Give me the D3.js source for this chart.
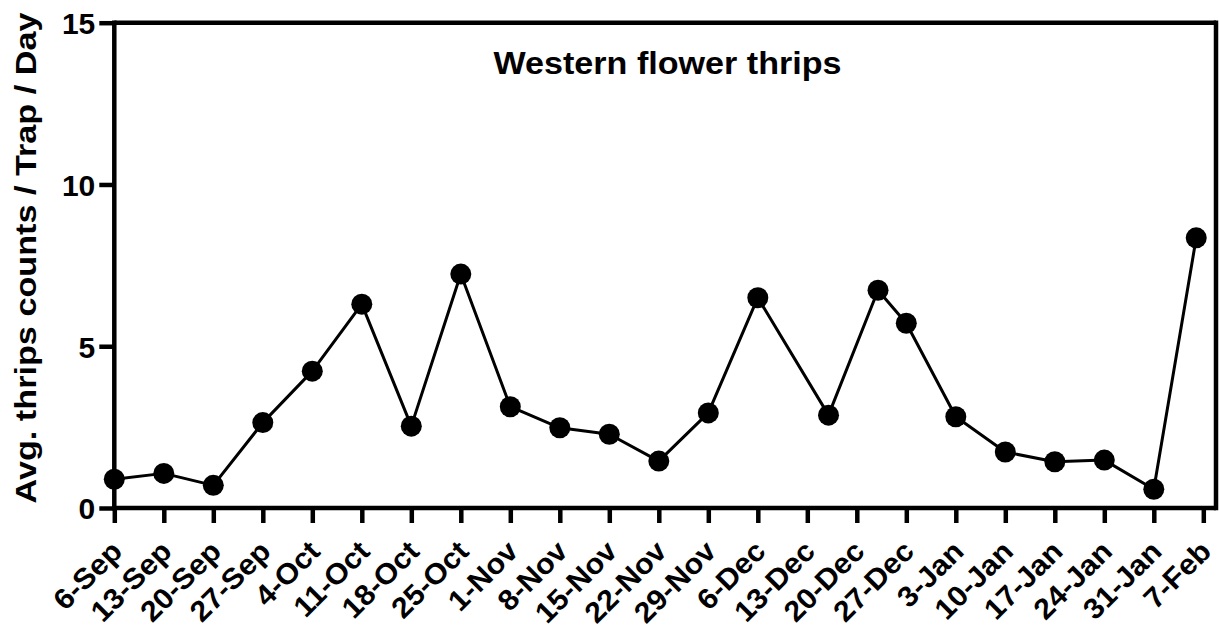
<!DOCTYPE html>
<html>
<head>
<meta charset="utf-8">
<script src="https://cdn.jsdelivr.net/npm/d3@7"></script>
<style>
  html, body { margin: 0; padding: 0; background: #fff; }
  svg text { font-family: "Liberation Sans", Arial, Helvetica, sans-serif; font-weight: bold; fill: #000; }
</style>
</head>
<body>
<svg id="chart" width="1219" height="635"></svg>
<script>
// ---- data ----
const dates = ["2019-09-06","2019-09-13","2019-09-20","2019-09-27","2019-10-04","2019-10-11","2019-10-18","2019-10-25",
               "2019-11-01","2019-11-08","2019-11-15","2019-11-22","2019-11-29","2019-12-06","2019-12-16","2019-12-23",
               "2019-12-27","2020-01-03","2020-01-10","2020-01-17","2020-01-24","2020-01-31","2020-02-06"];
const values = [0.89, 1.07, 0.70, 2.64, 4.23, 6.30, 2.53, 7.23,
                3.13, 2.48, 2.28, 1.45, 2.94, 6.50, 2.87, 6.73,
                5.71, 2.82, 1.73, 1.43, 1.48, 0.58, 8.35];
const tickLabels = ["6-Sep","13-Sep","20-Sep","27-Sep","4-Oct","11-Oct","18-Oct","25-Oct","1-Nov","8-Nov","15-Nov",
                    "22-Nov","29-Nov","6-Dec","13-Dec","20-Dec","27-Dec","3-Jan","10-Jan","17-Jan","24-Jan","31-Jan","7-Feb"];
const yTicks = [0, 5, 10, 15];
const chartTitle = "Western flower thrips";
const yTitle = "Avg. thrips counts / Trap / Day";

// ---- setup ----
const parse = d3.timeParse("%Y-%m-%d");
const data = dates.map((d, i) => ({ date: parse(d), value: values[i] }));
const weekly = d3.range(tickLabels.length).map(i => d3.timeDay.offset(parse("2019-09-06"), i * 7));

const svg = d3.select("#chart");
const mLeft = 114.3, mRight = 1216, mTop = 22.7, mBottom = 508;

const x = d3.scaleTime()
  .domain([parse("2019-09-06"), parse("2020-02-07")])
  .range([mLeft, 1203.3]);
const y = d3.scaleLinear().domain([0, 15]).range([mBottom, mTop]);

const axisW = 4.5;

// frame (top & right)
svg.append("line").attr("x1", mLeft).attr("x2", mRight).attr("y1", mTop).attr("y2", mTop)
  .attr("stroke", "#000").attr("stroke-width", axisW);
svg.append("line").attr("x1", mRight).attr("x2", mRight).attr("y1", mTop - axisW / 2).attr("y2", mBottom + axisW / 2)
  .attr("stroke", "#000").attr("stroke-width", axisW);

// y axis
const yAxis = d3.axisLeft(y).tickValues(yTicks).tickSize(15).tickPadding(4).tickFormat(d3.format("d"));
const gy = svg.append("g").attr("transform", `translate(${mLeft},0)`).call(yAxis);
gy.select(".domain").remove();
gy.append("line").attr("x1", 0).attr("x2", 0).attr("y1", mTop - axisW / 2).attr("y2", mBottom + axisW / 2)
  .attr("stroke", "#000").attr("stroke-width", axisW);
gy.selectAll(".tick line").attr("stroke", "#000").attr("stroke-width", axisW);
gy.selectAll(".tick text").attr("font-size", 30).attr("font-family", null).attr("dy", "0.36em");

// x axis
const xAxis = d3.axisBottom(x).tickValues(weekly).tickSize(15).tickFormat((d, i) => tickLabels[i]);
const gx = svg.append("g").attr("transform", `translate(0,${mBottom})`).call(xAxis);
gx.select(".domain").remove();
gx.append("line").attr("x1", mLeft - axisW / 2).attr("x2", mRight).attr("y1", 0).attr("y2", 0)
  .attr("stroke", "#000").attr("stroke-width", axisW);
gx.selectAll(".tick line").attr("stroke", "#000").attr("stroke-width", axisW);
gx.selectAll(".tick text")
  .attr("font-size", 29).attr("font-family", null)
  .attr("text-anchor", "end")
  .attr("x", 0).attr("y", 0).attr("dy", null)
  .attr("transform", "translate(9,45) rotate(-45)")
  .each(function () {
    const len = this.getComputedTextLength();
    d3.select(this).attr("textLength", len * 1.05).attr("lengthAdjust", "spacingAndGlyphs");
  });

// line
const line = d3.line().x(d => x(d.date)).y(d => y(d.value));
svg.append("path").datum(data).attr("d", line)
  .attr("fill", "none").attr("stroke", "#000").attr("stroke-width", 3).attr("stroke-linejoin", "round");

// points
svg.append("g").selectAll("circle").data(data).join("circle")
  .attr("cx", d => x(d.date)).attr("cy", d => y(d.value)).attr("r", 10.5).attr("fill", "#000");

// title
svg.append("text").attr("x", 667.5).attr("y", 74).attr("text-anchor", "middle")
  .attr("font-size", 31).attr("textLength", 348).attr("lengthAdjust", "spacingAndGlyphs").text(chartTitle);

// y title
svg.append("text").attr("transform", "translate(36,258) rotate(-90)").attr("text-anchor", "middle")
  .attr("font-size", 29).attr("textLength", 491).attr("lengthAdjust", "spacingAndGlyphs").text(yTitle);
</script>
</body>
</html>
